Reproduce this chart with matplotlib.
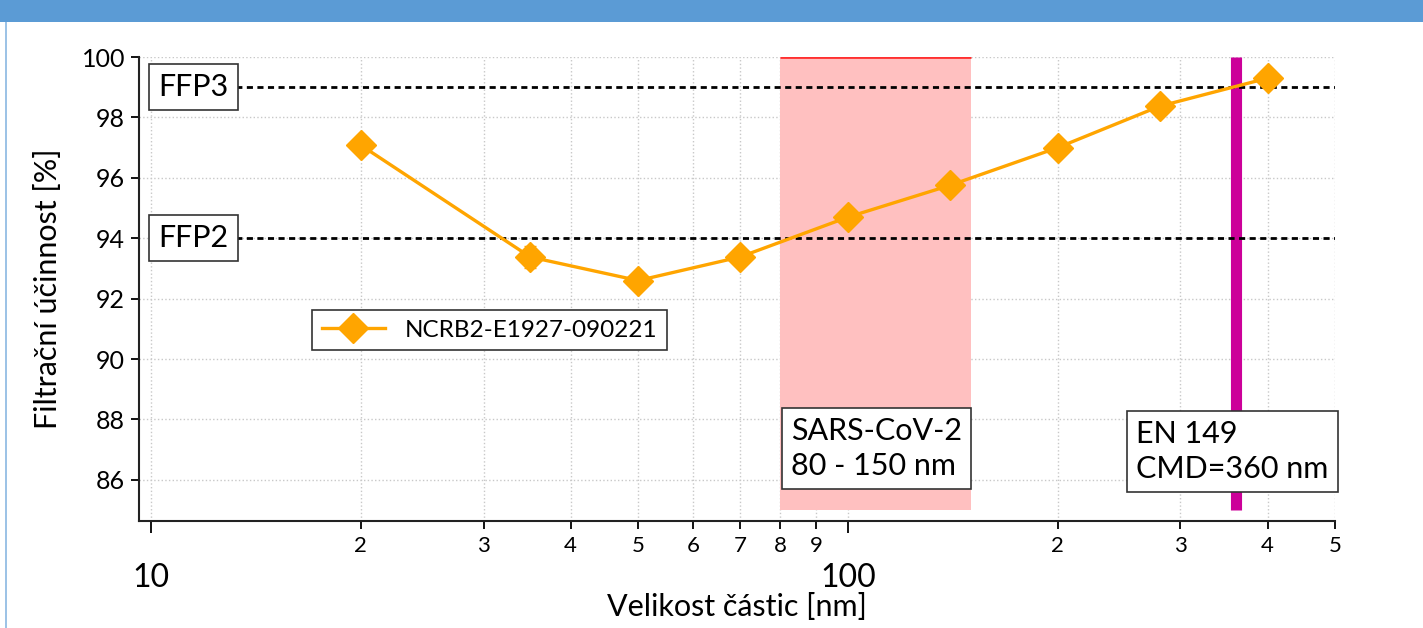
import numpy as np
import matplotlib
matplotlib.use('Agg')
import matplotlib.pyplot as plt
from matplotlib.ticker import FixedLocator, FixedFormatter
from matplotlib.patches import Rectangle
from matplotlib.lines import Line2D

plt.rcParams['font.family'] = ['Lato', 'DejaVu Sans']

# data
size_nm = [20, 35, 50, 70, 100, 140, 200, 280, 400]
efficiency = [97.08, 93.38, 92.6, 93.38, 94.7, 95.75, 97.0, 98.37, 99.3]
eff_err = [0.12, 0.35, 0.22, 0.12, 0.15, 0.12, 0.12, 0.2, 0.12]
series_name = 'NCRB2-E1927-090221'

ffp_names = ['FFP3', 'FFP2']
ffp_levels = [99, 94]

sars_range = [80, 150]
sars_label = 'SARS-CoV-2\n80 - 150 nm'
cmd_nm = 360
cmd_label = 'EN 149\nCMD=360 nm'

fig = plt.figure(figsize=(14.23, 6.28), dpi=100)
ax = fig.add_axes([0.0977, 0.1704, 0.8405, 0.7388])

ax.set_xscale('log')
ax.set_xlim(9.61, 500)
ax.set_ylim(84.64, 100)

# ticks and grid
ax.yaxis.set_major_locator(FixedLocator(np.arange(86, 101, 2)))
ax.xaxis.set_major_locator(FixedLocator([10, 100]))
minor_x = [2e1, 3e1, 4e1, 5e1, 6e1, 7e1, 8e1, 9e1, 2e2, 3e2, 4e2, 5e2]
ax.xaxis.set_minor_locator(FixedLocator(minor_x))
ax.xaxis.set_minor_formatter(FixedFormatter(['2', '3', '4', '5', '6', '7', '8', '9', '2', '3', '4', '5']))
ax.xaxis.set_major_formatter(FixedFormatter(['10', '100']))
ax.grid(True, which='both', color='#c8c8c8', linestyle=':', linewidth=1.0)
ax.set_axisbelow(True)

# SARS-CoV-2 region
ax.fill_between(sars_range, 85, 100, color='#ffc0c0', zorder=1, linewidth=0)
ax.plot(sars_range, [100, 100], color='#ff3030', linewidth=2, zorder=2, solid_capstyle='butt')

# EN 149 CMD
ax.plot([cmd_nm, cmd_nm], [85, 100], color='#cc0099', linewidth=8, zorder=2, solid_capstyle='butt')

box = dict(boxstyle='square,pad=0.3', facecolor='white', edgecolor='#333333', linewidth=1.2)

# FFP levels
for name, lev in zip(ffp_names, ffp_levels):
    ax.hlines(lev, 11.1, 500, colors='black', linestyles=(0, (2.2, 1.6)), linewidth=2, zorder=3)
    ax.text(10.25, lev, name, fontsize=22, ha='left', va='center', zorder=5, bbox=box)

# series
ax.errorbar(size_nm, efficiency, yerr=eff_err, color='#ffa500', linewidth=2.4, marker='D',
            markersize=15, capsize=4, elinewidth=1.5, zorder=4)

ax.text(82.8, 87.05, sars_label, fontsize=22, ha='left', va='center', linespacing=1.3, zorder=5, bbox=box)
ax.text(259, 86.95, cmd_label, fontsize=22, ha='left', va='center', linespacing=1.3, zorder=5, bbox=box)

handle = Line2D([], [], color='#ffa500', linewidth=2.4, marker='D', markersize=15)
leg = ax.legend([handle], [series_name], loc='upper left', bbox_to_anchor=(0.1446, 0.455),
                borderaxespad=0, fontsize=17.5, fancybox=False, framealpha=1,
                edgecolor='#333333', handlelength=2.6, borderpad=0.4)
leg.get_frame().set_linewidth(1.2)

# spines
for s in ['top', 'right']:
    ax.spines[s].set_visible(False)
for s in ['left', 'bottom']:
    ax.spines[s].set_linewidth(1.5)
    ax.spines[s].set_color('#222222')
ax.tick_params(axis='y', which='major', length=6, width=1.3, labelsize=18, pad=4)
ax.tick_params(axis='x', which='major', length=8.6, width=1.3, labelsize=23, pad=22)
ax.tick_params(axis='x', which='minor', length=5.8, width=1.3, labelsize=16, pad=5)

ax.set_ylabel('Filtrační účinnost [%]', fontsize=22, labelpad=14)
ax.set_xlabel('Velikost částic [nm]', fontsize=22, labelpad=0)

# page decoration: header band and left border
fig.patches.append(Rectangle((0, 1 - 22 / 628), 1, 22 / 628, transform=fig.transFigure,
                             facecolor='#5b9bd5', edgecolor='none'))
fig.patches.append(Rectangle((5 / 1423, 0), 2 / 1423, 1 - 22 / 628, transform=fig.transFigure,
                             facecolor='#9dc3e6', edgecolor='none'))

fig.savefig('out.png', dpi=100)
